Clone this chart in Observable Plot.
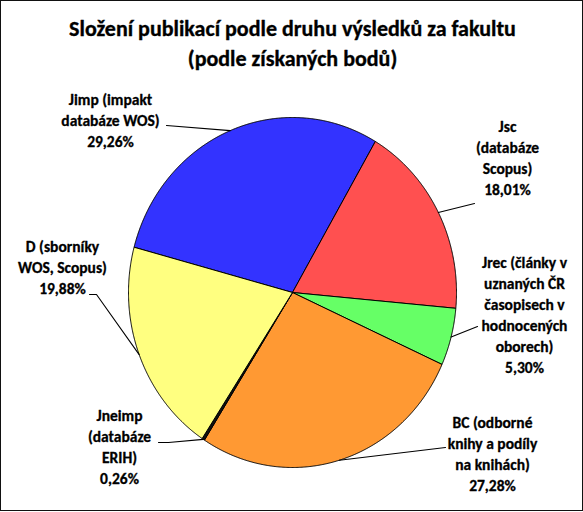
<!DOCTYPE html>
<html><head><meta charset="utf-8">
<script src="https://cdn.jsdelivr.net/npm/d3@7"></script>
<script src="https://cdn.jsdelivr.net/npm/@observablehq/plot@0.6"></script>
<style>
body{margin:0;background:#fff}
#chart{position:absolute;left:0;top:0}
#border{position:absolute;left:0;top:0;width:583px;height:511px;box-sizing:border-box;border:1.5px solid #111;pointer-events:none}
</style>
</head><body><div id="chart"></div><div id="border"></div>
<script>
// ---- data ----
const titleLines = ["Složení publikací podle druhu výsledků za fakultu", "(podle získaných bodů)"];
const categories = ["Jimp", "Jsc", "Jrec", "BC", "Jneimp", "D"];
const shares = [29.26, 18.01, 5.30, 27.28, 0.26, 19.88];
const labelNames = [
  ["Jimp (impakt", "databáze WOS)"],
  ["Jsc", "(databáze", "Scopus)"],
  ["Jrec (články v", "uznaných ČR", "časopisech v", "hodnocených", "oborech)"],
  ["BC (odborné", "knihy a podíly", "na knihách)"],
  ["Jneimp", "(databáze", "ERIH)"],
  ["D (sborníky", "WOS, Scopus)"]
];
const colors = ["#3333FF", "#FF5050", "#66FF66", "#FF9933", "#111111", "#FFFF80"];

// ---- layout (pixels of the 583x512 picture) ----
const CX = 292, CY = 292, RX = 164, RY = 175;
const ux = px => (px - CX) / RX;
const uy = py => (CY - py) / RY;
const startDeg = -75;
const lineGap = 21;
const labelPos = {
  Jimp:   {x: 110, y: 100},
  Jsc:    {x: 507, y: 127},
  Jrec:   {x: 524, y: 263},
  BC:     {x: 492, y: 423},
  Jneimp: {x: 119, y: 416},
  D:      {x: 62,  y: 247}
};
const leaderStart = {
  Jimp:   [[166, 125]],
  Jsc:    [[474, 203]],
  Jrec:   [[477, 326]],
  BC:     [[445, 447]],
  Jneimp: [[158, 442], [168, 442]],
  D:      [[89, 294], [96, 294]]
};

// ---- build marks data ----
const fmt = v => v.toFixed(2).replace(".", ",") + "%";
const arcs = d3.pie().sort(null)
  .startAngle(startDeg * Math.PI / 180)
  .endAngle((startDeg + 360) * Math.PI / 180)(shares);

const slicePts = [];
arcs.forEach((a, i) => {
  const name = categories[i];
  slicePts.push({name, x: 0, y: 0});
  const n = Math.max(2, Math.ceil((a.endAngle - a.startAngle) / 0.005));
  for (let k = 0; k <= n; k++) {
    const t = a.startAngle + (a.endAngle - a.startAngle) * k / n;
    slicePts.push({name, x: Math.sin(t), y: Math.cos(t)});
  }
  slicePts.push({name, x: 0, y: 0});
});

const leaderPts = [];
arcs.forEach((a, i) => {
  const name = categories[i];
  const m = (a.startAngle + a.endAngle) / 2;
  leaderStart[name].forEach(([px, py]) => leaderPts.push({name, x: ux(px), y: uy(py)}));
  leaderPts.push({name, x: Math.sin(m), y: Math.cos(m)});
});

const labelRows = [];
categories.forEach((name, i) => {
  const lines = [...labelNames[i], fmt(shares[i])];
  lines.forEach((t, k) => labelRows.push({
    text: t, x: ux(labelPos[name].x), y: uy(labelPos[name].y + k * lineGap)
  }));
});
const titleRows = titleLines.map((t, k) => ({text: t, x: ux(292), y: uy(28 + k * 30)}));

const font = "Carlito, Calibri, Lato, sans-serif";
const plot = Plot.plot({
  width: 583, height: 512,
  x: {domain: [-1, 1], range: [CX - RX, CX + RX], axis: null},
  y: {domain: [-1, 1], range: [CY + RY, CY - RY], axis: null},
  color: {domain: categories, range: colors},
  style: {fontFamily: font, background: "#fff", overflow: "visible"},
  marks: [
    Plot.line(slicePts, {x: "x", y: "y", z: "name", fill: "name", stroke: "#000", strokeWidth: 1, strokeLinejoin: "round", curve: "linear"}),
    Plot.line(leaderPts, {x: "x", y: "y", z: "name", stroke: "#000", strokeWidth: 1.1}),
    Plot.text(labelRows, {x: "x", y: "y", text: "text", fontSize: 15.5, fontWeight: "bold", fill: "#000", stroke: "#000", strokeWidth: 0.3, textAnchor: "middle", lineAnchor: "middle"}),
    Plot.text(titleRows, {x: "x", y: "y", text: "text", fontSize: 22, fontWeight: "bold", fill: "#000", stroke: "#000", strokeWidth: 0.35, textAnchor: "middle", lineAnchor: "middle"})
  ]
});
document.getElementById("chart").appendChild(plot);
</script>
</body></html>
